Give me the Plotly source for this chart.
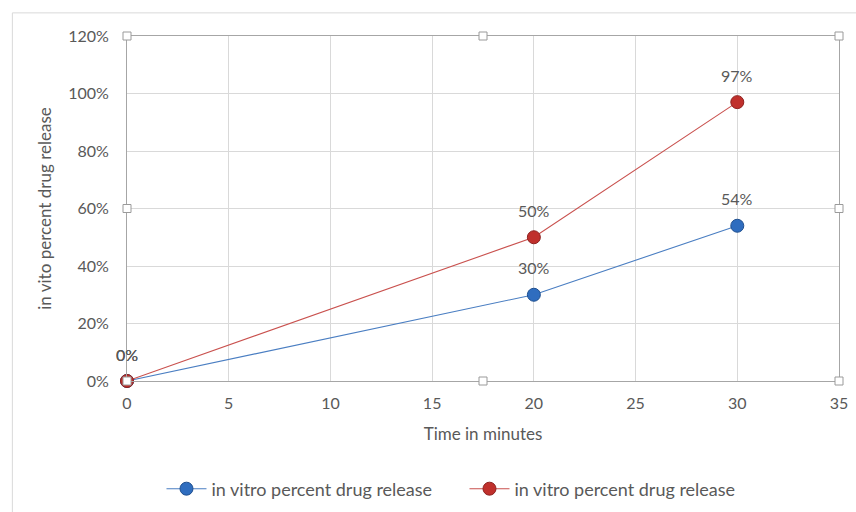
import plotly.graph_objects as go

time_min = [0, 20, 30]
blue_release = [0.0, 0.30, 0.54]
red_release = [0.0, 0.50, 0.97]
series_name = "in vitro percent drug release"
x_ticks = [0, 5, 10, 15, 20, 25, 30, 35]
y_ticks = [0, 0.2, 0.4, 0.6, 0.8, 1.0, 1.2]
y_tick_text = ["0%", "20%", "40%", "60%", "80%", "100%", "120%"]

FONT = "Lato, 'Open Sans', sans-serif"
TXT = "#595959"

def labels(vals):
    return [f"{round(v*100)}%" for v in vals]

fig = go.Figure()
fig.add_trace(go.Scatter(
    x=time_min, y=blue_release, name=series_name, mode="lines+markers",
    line=dict(color="#4A7EC2", width=1.1),
    marker=dict(size=13, color="#2F6DBF", line=dict(color="#1F4F8F", width=1)),
))
fig.add_trace(go.Scatter(
    x=time_min, y=red_release, name=series_name, mode="lines+markers",
    line=dict(color="#C9514E", width=1.1),
    marker=dict(size=13, color="#C0302C", line=dict(color="#8E2220", width=1)),
))

annotations = []
for series in (blue_release, red_release):
    for xv, yv, t in zip(time_min, series, labels(series)):
        annotations.append(dict(x=xv, y=yv, text=t, showarrow=False, yshift=27,
                                font=dict(family=FONT, size=16, color=TXT)))

handles = [(0, 0), (0.5, 0), (1, 0), (0, 0.5), (1, 0.5), (0, 1), (0.5, 1), (1, 1)]
shapes = [dict(type="rect", xref="paper", yref="paper",
               x0=-0.161, x1=1.1, y0=-0.42, y1=1.067,
               line=dict(color="#D9D9D9", width=1), fillcolor="rgba(0,0,0,0)",
               layer="below")]
for hx, hy in handles:
    shapes.append(dict(type="rect", xref="paper", yref="paper",
                       x0=-4, x1=4, y0=-4, y1=4, xsizemode="pixel", ysizemode="pixel",
                       xanchor=hx, yanchor=hy,
                       line=dict(color="#9A9A9A", width=1), fillcolor="white"))

fig.update_layout(
    width=856, height=512,
    margin=dict(l=127, r=17, t=36, b=131, autoexpand=False),
    paper_bgcolor="white", plot_bgcolor="white",
    font=dict(family=FONT, size=15, color=TXT),
    showlegend=True,
    legend=dict(orientation="h", x=0.474, xanchor="center", y=-0.313, yanchor="middle",
                font=dict(family=FONT, size=18, color=TXT), itemwidth=40,
                traceorder="normal", tracegroupgap=0, entrywidth=248),
    xaxis=dict(range=[0, 35], tickvals=x_ticks, showgrid=True, gridcolor="#D9D9D9",
               zeroline=False, showline=True, linecolor="#A6A6A6", mirror=True,
               ticks="", ticklabelstandoff=8,
               title=dict(text="Time in minutes", font=dict(size=17, color=TXT), standoff=16),
               tickfont=dict(size=16, color=TXT)),
    yaxis=dict(range=[0, 1.2], tickvals=y_ticks, ticktext=y_tick_text, showgrid=True,
               gridcolor="#D9D9D9", zeroline=False, showline=True, linecolor="#A6A6A6",
               mirror=True, ticks="", ticklabelstandoff=14,
               title=dict(text="in vito percent drug release", font=dict(size=17, color=TXT), standoff=12),
               tickfont=dict(size=16, color=TXT)),
    shapes=shapes,
    annotations=annotations,
)
fig.update_traces(cliponaxis=False)

fig.write_html("out.html")
